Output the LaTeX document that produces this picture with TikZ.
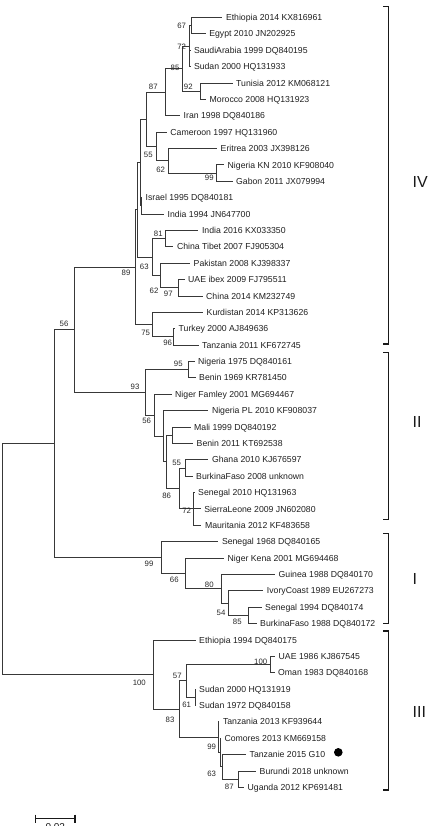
\documentclass[tikz,border=0pt]{standalone}
\usepackage{fontspec}
\setmainfont{Liberation Sans}
\begin{document}
\begin{tikzpicture}[x=1pt,y=-1pt,
  br/.style={draw=black!78,line width=0.85pt},
  leaf/.style={anchor=west,inner xsep=3.5pt,inner ysep=0pt,font=\fontsize{8.7}{10}\selectfont,text=black!88,text height=6.2pt,text depth=0pt},
  bs/.style={inner sep=0pt,font=\fontsize{7.8}{9}\selectfont,text=black!85},
  clade/.style={anchor=west,inner sep=0pt,font=\fontsize{16}{18}\selectfont,text=black!90},
  bracket/.style={draw=black!90,line width=1.1pt},
  sbar/.style={draw=black!90,line width=1.5pt}
]
\useasboundingbox (0,0) rectangle (432,826);
% internal nodes
\coordinate (root) at (2.7,559.08);
\coordinate (nA) at (54.3,443.67);
\coordinate (n56) at (74,329.8);
\coordinate (n89) at (135,267.2);
\coordinate (nX) at (137.7,209.84);
\coordinate (nY) at (140,162.62);
\coordinate (nC) at (146.7,119.37);
\coordinate (n87) at (165.7,92.24);
\coordinate (n85) at (182.5,68.69);
\coordinate (n72) at (189.5,46.17);
\coordinate (n67) at (191,25.69);
\coordinate (n92) at (200,91.21);
\coordinate (n55) at (156.7,146.49);
\coordinate (n62a) at (168.3,160.83);
\coordinate (n99a) at (216.7,173.11);
\coordinate (nII) at (141.2,205.87);
\coordinate (n63) at (152.3,257.06);
\coordinate (n81) at (165.7,238.63);
\coordinate (n62b) at (160.7,275.49);
\coordinate (n97) at (178.3,287.77);
\coordinate (n75) at (152.3,324.63);
\coordinate (n96) at (173.3,336.91);
\coordinate (n93) at (145,392.45);
\coordinate (n95) at (188.3,369.67);
\coordinate (n56b) at (154.3,415.23);
\coordinate (nZ) at (163.3,436.22);
\coordinate (nW) at (166.7,461.81);
\coordinate (nMB) at (172.3,435.19);
\coordinate (n86) at (179,488.43);
\coordinate (n55b) at (185,467.95);
\coordinate (n72b) at (193.3,508.90);
\coordinate (n99c) at (161.7,557.53);
\coordinate (n66) at (185,573.40);
\coordinate (n80) at (221.7,588.76);
\coordinate (n54) at (228.3,603.09);
\coordinate (n85c) at (248.3,615.37);
\coordinate (n100) at (153.3,674.49);
\coordinate (n83) at (179,709.04);
\coordinate (n57) at (186.7,680.89);
\coordinate (n100b) at (270,664.51);
\coordinate (n61) at (195,697.27);
\coordinate (n99d) at (218.3,737.20);
\coordinate (nN2) at (220.3,752.55);
\coordinate (n63d) at (222.3,766.89);
\coordinate (n87d) at (238.3,779.17);
% leaves
\node[leaf] (l1) at (222.3,17.50) {Ethiopia 2014 KX816961};
\node[leaf] (l2) at (205.6,33.88) {Egypt 2010 JN202925};
\node[leaf] (l3) at (190.3,50.26) {SaudiArabia 1999 DQ840195};
\node[leaf] (l4) at (190.3,66.64) {Sudan 2000 HQ131933};
\node[leaf] (l5) at (232.5,83.02) {Tunisia 2012 KM068121};
\node[leaf] (l6) at (206,99.40) {Morocco 2008 HQ131923};
\node[leaf] (l7) at (180,115.78) {Iran 1998 DQ840186};
\node[leaf] (l8) at (166.7,132.16) {Cameroon 1997 HQ131960};
\node[leaf] (l9) at (217,148.54) {Eritrea 2003 JX398126};
\node[leaf] (l10) at (224,164.92) {Nigeria KN 2010 KF908040};
\node[leaf] (l11) at (232.5,181.30) {Gabon 2011 JX079994};
\node[leaf] (l12) at (142,197.68) {Israel 1995 DQ840181};
\node[leaf] (l13) at (164,214.06) {India 1994 JN647700};
\node[leaf] (l14) at (198.3,230.44) {India 2016 KX033350};
\node[leaf] (l15) at (173.3,246.82) {China Tibet 2007 FJ905304};
\node[leaf] (l16) at (190,263.20) {Pakistan 2008 KJ398337};
\node[leaf] (l17) at (184.5,279.58) {UAE ibex 2009 FJ795511};
\node[leaf] (l18) at (202.5,295.96) {China 2014 KM232749};
\node[leaf] (l19) at (203,312.34) {Kurdistan 2014 KP313626};
\node[leaf] (l20) at (175,328.72) {Turkey 2000 AJ849636};
\node[leaf] (l21) at (198.5,345.10) {Tanzania 2011 KF672745};
\node[leaf] (l22) at (194.5,361.48) {Nigeria 1975 DQ840161};
\node[leaf] (l23) at (195.5,377.86) {Benin 1969 KR781450};
\node[leaf] (l24) at (171.5,394.24) {Niger Famley 2001 MG694467};
\node[leaf] (l25) at (208.3,410.62) {Nigeria PL 2010 KF908037};
\node[leaf] (l26) at (190.5,427.00) {Mali 1999 DQ840192};
\node[leaf] (l27) at (193,443.38) {Benin 2011 KT692538};
\node[leaf] (l28) at (208.3,459.76) {Ghana 2010 KJ676597};
\node[leaf] (l29) at (192.5,476.14) {BurkinaFaso 2008 unknown};
\node[leaf] (l30) at (194.5,492.52) {Senegal 2010 HQ131963};
\node[leaf] (l31) at (200.7,508.90) {SierraLeone 2009 JN602080};
\node[leaf] (l32) at (201.3,525.28) {Mauritania 2012 KF483658};
\node[leaf] (l33) at (218.3,541.66) {Senegal 1968 DQ840165};
\node[leaf] (l34) at (224,558.04) {Niger Kena 2001 MG694468};
\node[leaf] (l35) at (275,574.42) {Guinea 1988 DQ840170};
\node[leaf] (l36) at (263.2,590.80) {IvoryCoast 1989 EU267273};
\node[leaf] (l37) at (261.5,607.18) {Senegal 1994 DQ840174};
\node[leaf] (l38) at (256.5,623.56) {BurkinaFaso 1988 DQ840172};
\node[leaf] (l39) at (195.5,639.94) {Ethiopia 1994 DQ840175};
\node[leaf] (l40) at (275,656.32) {UAE 1986 KJ867545};
\node[leaf] (l41) at (274.5,672.70) {Oman 1983 DQ840168};
\node[leaf] (l42) at (195.5,689.08) {Sudan 2000 HQ131919};
\node[leaf] (l43) at (195.5,705.46) {Sudan 1972 DQ840158};
\node[leaf] (l44) at (219.3,721.84) {Tanzania 2013 KF939644};
\node[leaf] (l45) at (220.8,738.22) {Comores 2013 KM669158};
\node[leaf] (l46) at (246,754.60) {Tanzanie 2015 G10};
\node[leaf] (l47) at (256,770.98) {Burundi 2018 unknown};
\node[leaf] (l48) at (244,787.36) {Uganda 2012 KP691481};
% branches
\draw[br] (root) |- (nA) (root) |- (n100);
\draw[br] (nA) |- (n56) (nA) |- (n99c);
\draw[br] (n56) |- (n89) (n56) |- (n93);
\draw[br] (n89) |- (nX) (n89) |- (n75);
\draw[br] (nX) |- (nY) (nX) |- (n63);
\draw[br] (nY) |- (nC) (nY) |- (nII);
\draw[br] (nC) |- (n87) (nC) |- (n55);
\draw[br] (n87) |- (n85) (n87) |- (l7.west);
\draw[br] (n85) |- (n72) (n85) |- (n92);
\draw[br] (n72) |- (n67) (n72) |- (l3.west) (n72) |- (l4.west);
\draw[br] (n67) |- (l1.west) (n67) |- (l2.west);
\draw[br] (n92) |- (l5.west) (n92) |- (l6.west);
\draw[br] (n55) |- (l8.west) (n55) |- (n62a);
\draw[br] (n62a) |- (l9.west) (n62a) |- (n99a);
\draw[br] (n99a) |- (l10.west) (n99a) |- (l11.west);
\draw[br] (nII) |- (l12.west) (nII) |- (l13.west);
\draw[br] (n63) |- (n81) (n63) |- (n62b);
\draw[br] (n81) |- (l14.west) (n81) |- (l15.west);
\draw[br] (n62b) |- (l16.west) (n62b) |- (n97);
\draw[br] (n97) |- (l17.west) (n97) |- (l18.west);
\draw[br] (n75) |- (l19.west) (n75) |- (n96);
\draw[br] (n96) |- (l20.west) (n96) |- (l21.west);
\draw[br] (n93) |- (n95) (n93) |- (n56b);
\draw[br] (n95) |- (l22.west) (n95) |- (l23.west);
\draw[br] (n56b) |- (l24.west) (n56b) |- (nZ);
\draw[br] (nZ) |- (l25.west) (nZ) |- (nW);
\draw[br] (nW) |- (nMB) (nW) |- (n86);
\draw[br] (nMB) |- (l26.west) (nMB) |- (l27.west);
\draw[br] (n86) |- (n55b) (n86) |- (n72b);
\draw[br] (n55b) |- (l28.west) (n55b) |- (l29.west);
\draw[br] (n72b) |- (l30.west) (n72b) |- (l31.west) (n72b) |- (l32.west);
\draw[br] (n99c) |- (l33.west) (n99c) |- (n66);
\draw[br] (n66) |- (l34.west) (n66) |- (n80);
\draw[br] (n80) |- (l35.west) (n80) |- (n54);
\draw[br] (n54) |- (l36.west) (n54) |- (n85c);
\draw[br] (n85c) |- (l37.west) (n85c) |- (l38.west);
\draw[br] (n100) |- (l39.west) (n100) |- (n83);
\draw[br] (n83) |- (n57) (n83) |- (n99d);
\draw[br] (n57) |- (n100b) (n57) |- (n61);
\draw[br] (n100b) |- (l40.west) (n100b) |- (l41.west);
\draw[br] (n61) |- (l42.west) (n61) |- (l43.west);
\draw[br] (n99d) |- (l44.west) (n99d) |- (nN2);
\draw[br] (nN2) |- (l45.west) (nN2) |- (n63d);
\draw[br] (n63d) |- (l46.west) (n63d) |- (n87d);
\draw[br] (n87d) |- (l47.west) (n87d) |- (l48.west);
% bootstrap values
\node[bs] (b1) at (181.7,25.7) {67};
\node[bs] (b2) at (181.7,46.7) {72};
\node[bs] (b3) at (175,67.7) {85};
\node[bs] (b4) at (188.3,87.3) {92};
\node[bs] (b5) at (153.3,86.7) {87};
\node[bs] (b6) at (148.3,155.3) {55};
\node[bs] (b7) at (160.7,170) {62};
\node[bs] (b8) at (209.3,178.3) {99};
\node[bs] (b9) at (158.3,234.3) {81};
\node[bs] (b10) at (144.3,266.7) {63};
\node[bs] (b11) at (154,290.7) {62};
\node[bs] (b12) at (168.3,294.3) {97};
\node[bs] (b13) at (145.7,333.3) {75};
\node[bs] (b14) at (167.7,343.3) {96};
\node[bs] (b15) at (126,273.3) {89};
\node[bs] (b16) at (64,324) {56};
\node[bs] (b17) at (178.3,364) {95};
\node[bs] (b18) at (135,387.3) {93};
\node[bs] (b19) at (146.7,421) {56};
\node[bs] (b20) at (176.7,463.3) {55};
\node[bs] (b21) at (166.7,495.7) {86};
\node[bs] (b22) at (186.7,510.7) {72};
\node[bs] (b23) at (149,564) {99};
\node[bs] (b24) at (174.3,580) {66};
\node[bs] (b25) at (209.3,585) {80};
\node[bs] (b26) at (221,613.3) {54};
\node[bs] (b27) at (237.3,621.7) {85};
\node[bs] (b28) at (139.3,682.7) {100};
\node[bs] (b29) at (177.3,676) {57};
\node[bs] (b30) at (186.7,705) {61};
\node[bs] (b31) at (170,720) {83};
\node[bs] (b32) at (260.7,661.7) {100};
\node[bs] (b33) at (211.7,746.7) {99};
\node[bs] (b34) at (211.7,774) {63};
\node[bs] (b35) at (229.3,786.7) {87};
% marker
\node[circle,fill=black,inner sep=0pt,minimum size=8.6pt] (dot) at (338.3,752.3) {};
% clade brackets
\draw[bracket] (383.3,6.7) -- (388.3,6.7) -- (388.3,344) -- (383.3,344);
\draw[bracket] (383.3,352.3) -- (388.3,352.3) -- (388.3,519.3) -- (383.3,519.3);
\draw[bracket] (383.3,533.3) -- (388.3,533.3) -- (388.3,623.3) -- (383.3,623.3);
\draw[bracket] (383.3,631) -- (388.3,631) -- (388.3,790) -- (383.3,790);
\node[clade] (cIV) at (412.5,181.7) {IV};
\node[clade] (cII) at (412.5,421.7) {II};
\node[clade] (cI) at (412.5,579.3) {I};
\node[clade] (cIII) at (412.5,711.7) {III};
% scale bar
\coordinate (sb1) at (35.7,818.7);
\coordinate (sb2) at (75,818.7);
\draw[sbar] (sb1) -- (sb2);
\draw[sbar] ([yshift=4pt]sb1) -- ([yshift=-4pt]sb1);
\draw[sbar] ([yshift=4pt]sb2) -- ([yshift=-4pt]sb2);
\node[anchor=north,inner sep=0pt,font=\fontsize{10}{12}\selectfont,text=black!90] (sbl) at (55.3,823.8) {0.02};
\end{tikzpicture}
\end{document}
